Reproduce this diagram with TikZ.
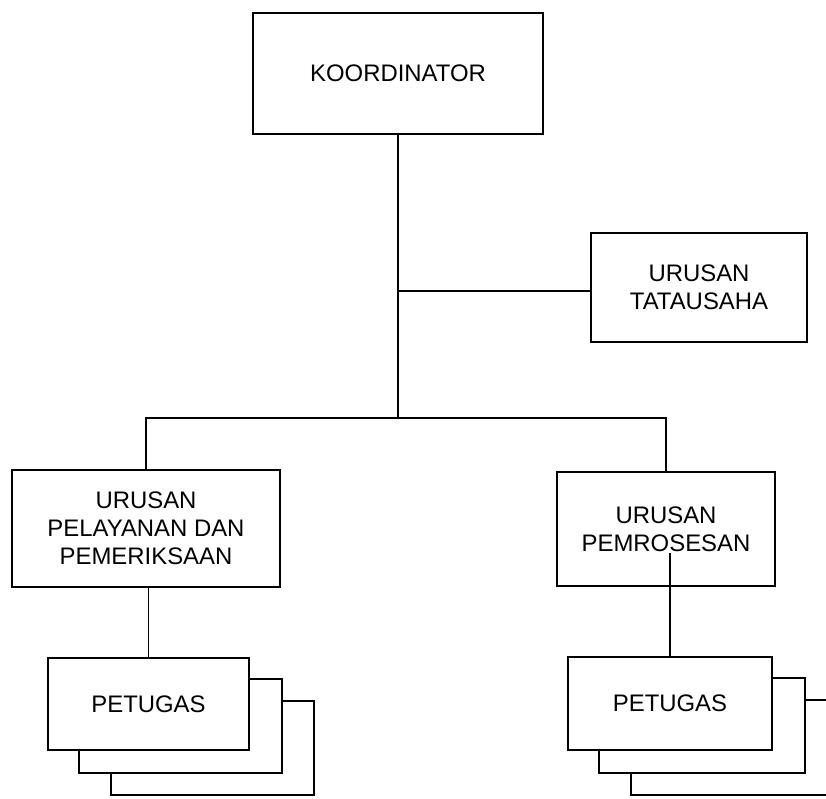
\documentclass[tikz,border=0pt]{standalone}
\usepackage{fontspec}
\setmainfont{Liberation Sans}
\usetikzlibrary{positioning,calc}

\begin{document}
\begin{tikzpicture}[x=0.025cm, y=-0.025cm, font=\fontsize{17}{20}\selectfont, every node/.style={align=center}]
\tikzset{
  box/.style={draw, line width=1.5pt, inner sep=0pt},
  conn/.style={line width=1.1pt},
  stack/.style={line width=1.3pt}
}
  \clip (0,0) rectangle (826,798);
  \node[box, minimum width=290*0.025cm, minimum height=121*0.025cm] (koord) at (398,73.5) {KOORDINATOR};
  \node[box, minimum width=216*0.025cm, minimum height=109*0.025cm] (tata) at (699,287.5) {URUSAN\\TATAUSAHA};
  \node[box, minimum width=268*0.025cm, minimum height=117*0.025cm] (pel) at (146,528.5) {URUSAN\\PELAYANAN DAN\\PEMERIKSAAN};
  \node[box, minimum width=218*0.025cm, minimum height=114*0.025cm] (pem) at (666,529) {URUSAN\\PEMROSESAN};
  \node[box, minimum width=201*0.025cm, minimum height=92*0.025cm] (petL) at (148.5,704) {PETUGAS};
  \node[box, minimum width=204*0.025cm, minimum height=93*0.025cm] (petR) at (670,703.5) {PETUGAS};

  \coordinate (tj) at (398,291);
  \coordinate (split) at (398,418);

  \draw[conn] (koord.south) -- (split);
  \draw[conn] (tj) -- (tata.west |- tj);
  \draw[conn] (split) -| (pel.north);
  \draw[conn] (split) -| (pem.north);
  \draw[conn] (petL.north |- pel.south) -- (petL.north);
  \draw[conn] (petR.north) -- (petR.north |- 0,553);

  % stacked copies behind each PETUGAS box
  \foreach \n in {petL,petR}{
    \foreach \k in {1,2}{
      \draw[stack] ($(\n.north east)+({32*(\k-1)},{22*\k})$)
        -| ($(\n.south east)+({32*\k},{22*\k})$)
        -| ($(\n.south west)+({32*\k},{22*(\k-1)})$);
    }
  }
\end{tikzpicture}
\end{document}
